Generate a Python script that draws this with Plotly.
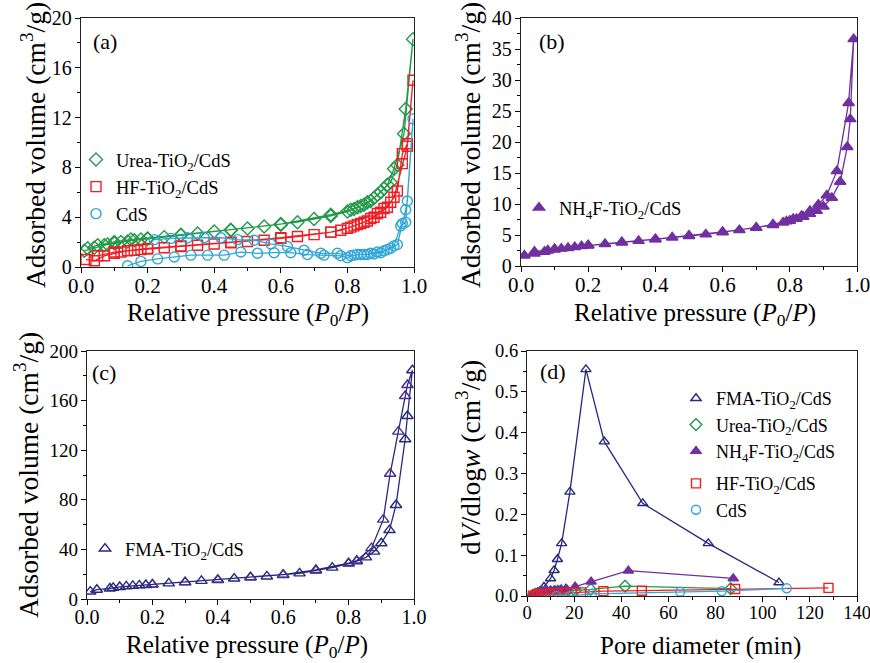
import plotly.graph_objects as go

W, H = 870, 663
SERIF = "Liberation Serif"

# ---------------- (a) isotherms: Urea-, HF-TiO2/CdS and CdS ----------------
urea_ads_p = [0.01, 0.04, 0.07, 0.08, 0.10, 0.12, 0.14, 0.16, 0.18, 0.20, 0.25, 0.30, 0.35, 0.40,
              0.45, 0.50, 0.55, 0.60, 0.65, 0.70, 0.75, 0.80, 0.82, 0.84, 0.86, 0.88, 0.90, 0.92,
              0.94, 0.97, 0.997]
urea_ads_v = [1.3, 1.55, 1.75, 1.8, 1.9, 2.0, 2.05, 2.15, 2.2, 2.25, 2.4, 2.55, 2.7, 2.85,
              2.95, 3.1, 3.25, 3.4, 3.6, 3.85, 4.1, 4.45, 4.65, 4.9, 5.2, 5.55, 6.0, 6.6,
              7.9, 10.7, 18.3]
urea_des_p = [0.997, 0.975, 0.95, 0.93, 0.91, 0.89, 0.87, 0.85, 0.83, 0.81, 0.75, 0.60, 0.45,
              0.30, 0.20, 0.15, 0.10, 0.05, 0.02]
urea_des_v = [18.3, 12.7, 8.2, 6.8, 6.3, 5.8, 5.3, 5.0, 4.8, 4.6, 4.2, 3.45, 3.0,
              2.6, 2.3, 2.2, 2.0, 1.75, 1.5]

hf_ads_p = [0.015, 0.04, 0.07, 0.10, 0.12, 0.14, 0.16, 0.18, 0.20, 0.25, 0.30, 0.35, 0.40, 0.45,
            0.50, 0.55, 0.60, 0.65, 0.70, 0.75, 0.78, 0.80, 0.82, 0.84, 0.86, 0.88, 0.90, 0.92,
            0.94, 0.965, 0.98, 0.997]
hf_ads_v = [0.6, 0.5, 0.9, 1.1, 1.2, 1.3, 1.35, 1.4, 1.45, 1.55, 1.65, 1.75, 1.85, 1.95,
            2.05, 2.15, 2.3, 2.45, 2.6, 2.8, 2.95, 3.1, 3.3, 3.5, 3.7, 4.0, 4.4, 4.8,
            5.6, 8.3, 9.7, 15.0]
hf_des_p = [0.997, 0.98, 0.965, 0.95, 0.93, 0.91, 0.89, 0.87, 0.85, 0.83, 0.81, 0.75, 0.60,
            0.45, 0.30, 0.20, 0.10, 0.05]
hf_des_v = [15.0, 9.9, 9.1, 6.1, 5.2, 4.7, 4.3, 3.9, 3.6, 3.4, 3.2, 2.8, 2.35,
            2.0, 1.7, 1.5, 1.2, 0.9]

cds_ads_p = [0.14, 0.18, 0.23, 0.28, 0.33, 0.38, 0.43, 0.48, 0.53, 0.58, 0.63, 0.68, 0.73, 0.78,
             0.80, 0.82, 0.84, 0.86, 0.88, 0.90, 0.92, 0.94, 0.96, 0.975, 0.997]
cds_ads_v = [0.1, 0.45, 0.65, 0.8, 0.95, 0.95, 0.95, 1.2, 1.1, 1.15, 1.15, 1.0, 0.95, 0.9,
             0.75, 0.95, 1.0, 1.0, 1.05, 1.15, 1.4, 1.7, 3.3, 3.6, 11.9]
cds_des_p = [0.997, 0.98, 0.975, 0.965, 0.95, 0.93, 0.91, 0.89, 0.87, 0.85, 0.83, 0.81, 0.77,
             0.72, 0.67, 0.62, 0.57, 0.52, 0.47, 0.42, 0.37, 0.32, 0.27, 0.22]
cds_des_v = [11.9, 5.3, 4.6, 3.5, 1.8, 1.5, 1.3, 1.2, 1.1, 1.0, 1.0, 0.9, 1.1,
             1.1, 1.35, 1.65, 1.85, 2.15, 2.2, 2.35, 2.35, 2.35, 2.3, 2.2]

# ---------------- (b) isotherm: NH4F-TiO2/CdS ----------------
nh4f_ads_p = [0.01, 0.04, 0.07, 0.08, 0.10, 0.12, 0.14, 0.16, 0.18, 0.20, 0.25, 0.30, 0.35, 0.40,
              0.45, 0.50, 0.55, 0.60, 0.65, 0.70, 0.75, 0.78, 0.80, 0.82, 0.84, 0.86, 0.88, 0.90,
              0.925, 0.95, 0.971, 0.98, 0.99]
nh4f_ads_v = [1.7, 2.0, 2.3, 2.5, 2.65, 2.8, 2.9, 3.05, 3.2, 3.3, 3.55, 3.8, 4.05, 4.3,
              4.6, 4.85, 5.1, 5.45, 5.8, 6.15, 6.6, 7.0, 7.3, 7.6, 7.95, 8.4, 8.9, 9.6,
              11.0, 13.6, 19.2, 23.7, 36.6]
nh4f_des_p = [0.99, 0.975, 0.94, 0.91, 0.885, 0.86, 0.835, 0.81, 0.79, 0.75, 0.70, 0.60, 0.50,
              0.40, 0.30, 0.20, 0.10, 0.04]
nh4f_des_v = [36.6, 26.3, 15.3, 11.4, 9.9, 8.9, 8.1, 7.6, 7.2, 6.7, 6.2, 5.5, 4.9,
              4.35, 3.85, 3.35, 2.75, 2.3]

# ---------------- (c) isotherm: FMA-TiO2/CdS ----------------
fma_ads_p = [0.01, 0.03, 0.07, 0.08, 0.10, 0.12, 0.14, 0.16, 0.18, 0.20, 0.25, 0.30, 0.35, 0.40,
             0.45, 0.50, 0.55, 0.60, 0.65, 0.70, 0.75, 0.80, 0.825, 0.853, 0.878, 0.90, 0.925,
             0.945, 0.973, 0.98, 0.995]
fma_ads_v = [6.0, 7.5, 8.5, 9.0, 9.7, 10.2, 10.6, 11.0, 11.3, 11.6, 12.6, 13.4, 14.6, 15.3,
             16.5, 17.5, 18.2, 19.4, 20.7, 23.0, 25.3, 28.5, 30.5, 33.6, 38.2, 45.0, 55.6,
             75.8, 128.8, 147.6, 184.5]
fma_des_p = [0.995, 0.98, 0.973, 0.952, 0.927, 0.906, 0.87, 0.825, 0.80, 0.70, 0.60, 0.50,
             0.40, 0.30, 0.20]
fma_des_v = [184.5, 172.6, 163.7, 135.0, 101.0, 64.0, 41.0, 31.0, 29.0, 23.4, 19.6, 17.6,
             15.5, 13.6, 11.8]

# ---------------- (d) pore size distributions ----------------
psd_fma_d = [2.5, 3.5, 4.5, 5.5, 7.2, 10.0, 11.5, 12.9, 14.7, 18.2, 25.0, 32.8, 49.1, 76.9, 106.9]
psd_fma_v = [0.003, 0.005, 0.008, 0.012, 0.022, 0.043, 0.063, 0.090, 0.129, 0.255, 0.555,
             0.378, 0.227, 0.129, 0.033]
psd_urea_d = [2.5, 3.5, 4.5, 5.5, 6.5, 8.0, 10.0, 12.0, 14.0, 17.0, 20.4, 27.0, 41.6, 86.4]
psd_urea_v = [0.002, 0.004, 0.006, 0.007, 0.008, 0.009, 0.010, 0.010, 0.011, 0.012, 0.013,
              0.016, 0.024, 0.018]
psd_nh4f_d = [2.5, 3.5, 4.5, 5.5, 6.5, 7.5, 8.5, 10.0, 11.5, 13.0, 14.5, 16.5, 20.4, 27.2,
              43.0, 87.5]
psd_nh4f_v = [0.003, 0.006, 0.008, 0.010, 0.011, 0.012, 0.013, 0.013, 0.014, 0.015, 0.016,
              0.018, 0.023, 0.035, 0.062, 0.043]
psd_hf_d = [2.5, 3.5, 4.5, 6.0, 8.0, 10.0, 13.0, 16.0, 19.0, 22.9, 32.4, 48.7, 88.3, 127.9]
psd_hf_v = [0.001, 0.002, 0.003, 0.004, 0.005, 0.005, 0.006, 0.007, 0.008, 0.009, 0.012,
            0.013, 0.017, 0.020]
psd_cds_d = [12.5, 18.5, 27.5, 65.0, 82.6, 110.2]
psd_cds_v = [0.0, 0.0, 0.005, 0.0105, 0.012, 0.0188]

GREEN = "#23994a"
RED = "#f01e23"
BLUE = "#2ea6d6"
PURPLE = "#7030a0"
NAVY = "#27287e"
NAVY_DES = "#4a2c8a"

fig = go.Figure()


def loop(ads, des):
    return list(ads) + list(des[1:])


def add_series(x, y, xa, ya, color, symbol, size, name, legend, group=None, mcolors=None):
    fig.add_trace(go.Scatter(
        x=x, y=y, xaxis=xa, yaxis=ya, mode="lines",
        line=dict(color=color, width=1.3), showlegend=False, hoverinfo="skip"))
    fig.add_trace(go.Scatter(
        x=x, y=y, xaxis=xa, yaxis=ya, mode="markers", name=name,
        legend=legend, legendgroup=group,
        marker=dict(symbol=symbol, size=size,
                    color=mcolors if mcolors is not None else color,
                    line=dict(width=1.4, color=color))))


TIO2 = "TiO<sub>2</sub>/CdS"

# (a)
add_series(loop(urea_ads_p, urea_des_p), loop(urea_ads_v, urea_des_v), "x", "y",
           GREEN, "diamond-open", 10, "Urea-" + TIO2, "legend")
add_series(loop(hf_ads_p, hf_des_p), loop(hf_ads_v, hf_des_v), "x", "y",
           RED, "square-open", 10, "HF-" + TIO2, "legend")
add_series(loop(cds_ads_p, cds_des_p), loop(cds_ads_v, cds_des_v), "x", "y",
           BLUE, "circle-open", 10, "CdS", "legend")

# (b)
add_series(loop(nh4f_ads_p, nh4f_des_p), loop(nh4f_ads_v, nh4f_des_v), "x2", "y2",
           PURPLE, "triangle-up", 10, "NH<sub>4</sub>F-" + TIO2, "legend2")

# (c)
fma_x = loop(fma_ads_p, fma_des_p)
fma_y = loop(fma_ads_v, fma_des_v)
fma_cols = [NAVY] * len(fma_ads_p) + [NAVY_DES] * (len(fma_des_p) - 1)
add_series(fma_x, fma_y, "x3", "y3", NAVY, "triangle-up-open", 10,
           "FMA-" + TIO2, "legend3", mcolors=fma_cols)

# (d)
add_series(psd_fma_d, psd_fma_v, "x4", "y4", NAVY, "triangle-up-open", 9,
           "FMA-" + TIO2, "legend4", group="g1")
add_series(psd_urea_d, psd_urea_v, "x4", "y4", GREEN, "diamond-open", 9,
           "Urea-" + TIO2, "legend4", group="g1")
add_series(psd_nh4f_d, psd_nh4f_v, "x4", "y4", PURPLE, "triangle-up", 9,
           "NH<sub>4</sub>F-" + TIO2, "legend4", group="g1")
add_series(psd_hf_d, psd_hf_v, "x4", "y4", RED, "square-open", 9,
           "HF-" + TIO2, "legend4", group="g2")
add_series(psd_cds_d, psd_cds_v, "x4", "y4", BLUE, "circle-open", 9,
           "CdS", "legend4", group="g2")


def fx(px):
    return px / W


def fy(py):
    return 1 - py / H


def axis(lo_px, hi_px, rng, dtick, mdtick, fmt, anchor, vertical=False, fsize=19):
    dom = [fy(hi_px), fy(lo_px)] if vertical else [fx(lo_px), fx(hi_px)]
    return dict(
        domain=dom, range=rng, dtick=dtick, tick0=0, tickformat=fmt,
        ticks="outside", ticklen=5, tickwidth=1.2, tickcolor="black",
        showline=True, linecolor="#222", linewidth=1.3, mirror=True,
        showgrid=False, zeroline=False, anchor=anchor, fixedrange=True,
        automargin=False, ticklabeloverflow="allow",
        ticklabelstandoff=-1 if vertical else -5,
        tickfont=dict(family=SERIF, size=fsize, color="black"),
        minor=dict(dtick=mdtick, tick0=0, ticks="outside", ticklen=3,
                   tickwidth=1, tickcolor="black", showgrid=False),
    )


def legend_box(x_px, y_px, gap=0, fsize=18.5):
    return dict(x=fx(x_px), y=fy(y_px), xanchor="left", yanchor="top",
                bgcolor="rgba(0,0,0,0)", borderwidth=0, itemsizing="trace",
                font=dict(family=SERIF, size=fsize, color="black"),
                traceorder="grouped", tracegroupgap=gap)


annotations = []


def text(x_px, y_px, s, size, angle=0):
    annotations.append(dict(
        x=fx(x_px), y=fy(y_px), xref="paper", yref="paper", text=s, showarrow=False,
        textangle=angle, xanchor="center", yanchor="middle",
        font=dict(family=SERIF, size=size, color="black")))


YTITLE = "Adsorbed volume (cm<sup>3</sup>/g)"
XTITLE = "Relative pressure (<i>P</i><sub>0</sub>/<i>P</i>)"

text(33, 145, YTITLE, 27.5, -90)
text(248, 314, XTITLE, 25)
text(468, 145, YTITLE, 27.5, -90)
text(695, 314, XTITLE, 25)
text(26, 475, YTITLE, 27.5, -90)
text(247, 646, XTITLE, 25)
text(468, 457, "d<i>V</i>/dlog<i>w</i> (cm<sup>3</sup>/g)", 27.5, -90)
text(700, 646, "Pore diameter (min)", 25)

text(105, 41, "(a)", 22)
text(552, 41, "(b)", 22)
text(104, 372, "(c)", 22)
text(553, 371, "(d)", 22)

fig.update_layout(
    width=W, height=H, margin=dict(l=0, r=0, t=0, b=0, autoexpand=False),
    paper_bgcolor="white", plot_bgcolor="white",
    xaxis=axis(81, 414, [0, 1.0], 0.2, 0.1, ".1f", "y", fsize=21),
    yaxis=axis(18, 267, [0, 20], 4, 2, "d", "x", vertical=True, fsize=20),
    xaxis2=axis(521, 857, [0, 1.0], 0.2, 0.1, ".1f", "y2", fsize=21),
    yaxis2=axis(18, 266, [0, 40], 5, 2.5, "d", "x2", vertical=True, fsize=20),
    xaxis3=axis(87, 414, [0, 1.0], 0.2, 0.1, ".1f", "y3", fsize=20),
    yaxis3=axis(351, 599, [0, 200], 40, 20, "d", "x3", vertical=True, fsize=19),
    xaxis4=axis(527, 857, [0, 140], 20, 10, "d", "y4", fsize=18.5),
    yaxis4=axis(351, 596, [0, 0.6], 0.1, 0.05, ".1f", "x4", vertical=True, fsize=18.5),
    legend=legend_box(76, 141),
    legend2=legend_box(519, 189),
    legend3=legend_box(85, 530),
    legend4=legend_box(676, 380, gap=6, fsize=18),
    annotations=annotations,
    showlegend=True,
)

fig.write_html("out.html")
